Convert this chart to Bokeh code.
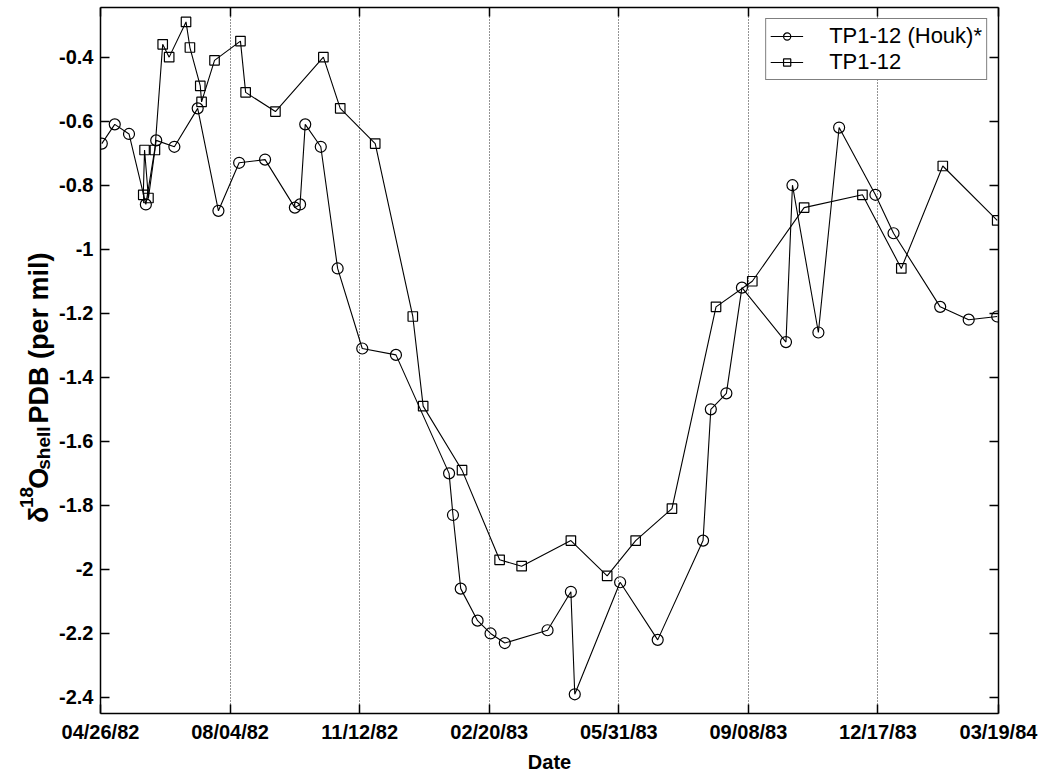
import pandas as pd
from math import pi
from bokeh.plotting import figure
from bokeh.layouts import row
from bokeh.core.properties import value
from bokeh.models import (Range1d, FixedTicker, CustomJSTickFormatter, LinearAxis,
                          Legend, LegendItem)
from bokeh.embed import file_html
from bokeh.resources import INLINE

# Shell oxygen-isotope record, sample TP1-12 (two analyses)
houk_dates = ["1982-04-27", "1982-05-07", "1982-05-18", "1982-05-31", "1982-06-08",
              "1982-06-22", "1982-07-10", "1982-07-26", "1982-08-11", "1982-08-31",
              "1982-09-23", "1982-09-27", "1982-10-01", "1982-10-13", "1982-10-26",
              "1982-11-14", "1982-12-10", "1983-01-20", "1983-01-23", "1983-01-29",
              "1983-02-11", "1983-02-21", "1983-03-04", "1983-04-06", "1983-04-24",
              "1983-04-27", "1983-06-01", "1983-06-30", "1983-08-04", "1983-08-10",
              "1983-08-22", "1983-09-03", "1983-10-07", "1983-10-12", "1983-11-01",
              "1983-11-17", "1983-12-15", "1983-12-29", "1984-02-03", "1984-02-25",
              "1984-03-18"]
houk_d18o = [-0.67, -0.61, -0.64, -0.86, -0.66, -0.68, -0.56, -0.88, -0.73, -0.72,
             -0.87, -0.86, -0.61, -0.68, -1.06, -1.31, -1.33, -1.70, -1.83, -2.06,
             -2.16, -2.20, -2.23, -2.19, -2.07, -2.39, -2.04, -2.22, -1.91, -1.50,
             -1.45, -1.12, -1.29, -0.80, -1.26, -0.62, -0.83, -0.95, -1.18, -1.22,
             -1.21]

tp_dates = ["1982-05-29", "1982-05-30", "1982-06-02", "1982-06-07", "1982-06-13",
            "1982-06-18", "1982-07-01", "1982-07-04", "1982-07-12", "1982-07-13",
            "1982-07-23", "1982-08-12", "1982-08-16", "1982-09-08", "1982-10-15",
            "1982-10-28", "1982-11-24", "1982-12-23", "1982-12-31", "1983-01-30",
            "1983-02-28", "1983-03-17", "1983-04-24", "1983-05-22", "1983-06-13",
            "1983-07-11", "1983-08-14", "1983-09-11", "1983-10-21", "1983-12-05",
            "1984-01-04", "1984-02-05", "1984-03-18"]
tp_d18o = [-0.83, -0.69, -0.84, -0.69, -0.36, -0.40, -0.29, -0.37, -0.49, -0.54,
           -0.41, -0.35, -0.51, -0.57, -0.40, -0.56, -0.67, -1.21, -1.49, -1.69,
           -1.97, -1.99, -1.91, -2.02, -1.91, -1.81, -1.18, -1.10, -0.87, -0.83,
           -1.06, -0.74, -0.91]

x_tick_dates = ["1982-04-26", "1982-08-04", "1982-11-12", "1983-02-20",
                "1983-05-31", "1983-09-08", "1983-12-17", "1984-03-19"]
y_ticks = [-2.4, -2.2, -2.0, -1.8, -1.6, -1.4, -1.2, -1.0, -0.8, -0.6, -0.4]

FONT = "Liberation Sans"


def to_ms(d):
    return pd.Timestamp(d).value / 1e6


x_ticks = [to_ms(d) for d in x_tick_dates]

# page geometry: a narrow strip for the y title, then the chart itself
W, H = 1045, 775
STRIP = 55
LEFT, RIGHT, TOP, BOTTOM = 100 - STRIP, 47, 7, 61

p = figure(width=W - STRIP, height=H, x_axis_type="datetime",
           x_range=Range1d(x_ticks[0], x_ticks[-1]),
           y_range=Range1d(-2.45, -0.245),
           output_backend="svg", toolbar_location=None,
           min_border_left=LEFT, min_border_right=RIGHT,
           min_border_top=TOP, min_border_bottom=BOTTOM,
           background_fill_color="white", border_fill_color="white",
           outline_line_color=None)

date_fmt = CustomJSTickFormatter(code="""
    const d = new Date(tick);
    const mm = String(d.getUTCMonth() + 1).padStart(2, '0');
    const dd = String(d.getUTCDate()).padStart(2, '0');
    const yy = String(d.getUTCFullYear() % 100).padStart(2, '0');
    return mm + '/' + dd + '/' + yy;
""")
num_fmt = CustomJSTickFormatter(code="return String(Math.round(tick * 10) / 10);")

p.xaxis.ticker = FixedTicker(ticks=x_ticks)
p.xaxis.formatter = date_fmt
p.yaxis.ticker = FixedTicker(ticks=y_ticks)
p.yaxis.formatter = num_fmt


def style_axis(ax, show_labels=True):
    ax.axis_line_color = "black"
    ax.axis_line_width = 1.5
    ax.major_tick_line_color = "black"
    ax.major_tick_line_width = 1.5
    ax.major_tick_in = 9
    ax.major_tick_out = 0
    ax.minor_tick_line_color = None
    ax.major_label_text_font = FONT
    ax.major_label_text_font_style = "bold"
    ax.major_label_text_color = "black"
    if show_labels:
        ax.major_label_text_font_size = "20px"
        ax.major_label_standoff = 7
    else:
        ax.major_label_text_font_size = "0px"
        ax.major_label_text_color = None
        ax.major_label_standoff = 0


for ax in p.xaxis + p.yaxis:
    style_axis(ax)

p.xaxis.axis_label = "Date"
p.xaxis.axis_label_text_font = FONT
p.xaxis.axis_label_text_font_size = "20px"
p.xaxis.axis_label_text_font_style = "bold"
p.xaxis.axis_label_text_color = "black"
p.xaxis.axis_label_standoff = 5

top_axis = LinearAxis(ticker=FixedTicker(ticks=x_ticks))
right_axis = LinearAxis(ticker=FixedTicker(ticks=y_ticks))
style_axis(top_axis, show_labels=False)
style_axis(right_axis, show_labels=False)
p.add_layout(top_axis, "above")
p.add_layout(right_axis, "right")

p.ygrid.visible = False
p.xgrid.grid_line_color = "black"
p.xgrid.grid_line_dash = "1 2"
p.xgrid.grid_line_width = 1
p.xgrid.grid_line_alpha = 0.85

hx = pd.to_datetime(houk_dates)
tx = pd.to_datetime(tp_dates)

l1 = p.line(hx, houk_d18o, line_color="black", line_width=1.1)
s1 = p.scatter(hx, houk_d18o, marker="circle", size=11, fill_color=None,
               line_color="black", line_width=1.2)
l2 = p.line(tx, tp_d18o, line_color="black", line_width=1.1)
s2 = p.scatter(tx, tp_d18o, marker="square", size=9.5, fill_color=None,
               line_color="black", line_width=1.2)

legend = Legend(items=[LegendItem(label="TP1-12 (Houk)*", renderers=[l1, s1]),
                       LegendItem(label="TP1-12", renderers=[l2, s2])],
                location="top_right", margin=11, padding=4, spacing=0,
                glyph_width=33, glyph_height=18, label_height=18,
                label_standoff=26, label_text_font=FONT,
                label_text_font_size="22px", label_text_color="black",
                border_line_color="black", border_line_width=1.2,
                background_fill_color="white", background_fill_alpha=1)
p.add_layout(legend)

# y title strip: coordinates are pixels from the strip's bottom-left corner
ylab = figure(width=STRIP, height=H, x_range=Range1d(0, STRIP), y_range=Range1d(0, H),
              x_axis_location=None, y_axis_location=None,
              output_backend="svg", toolbar_location=None, min_border=0,
              background_fill_color="white", border_fill_color="white",
              outline_line_color=None)
ylab.grid.visible = False

# delta, superscript 18, O, subscript shell, then the rest, reading upward
base_x, sup_x, sub_x = 38, 26, 43
em_main, em_small = 27, 19
start = H - 566
pieces = [
    ("\u03b4", em_main, base_x, 0.611 * em_main),
    ("18", em_small, sup_x, 1.112 * em_small),
    ("O", em_main, base_x, 0.778 * em_main),
    ("shell", em_small, sub_x, 2.279 * em_small + 0.278 * em_main),
    ("PDB (per mil)", em_main, base_x, 0.0),
]
pos = start
for text, size, bx, adv in pieces:
    ylab.text(x=[bx], y=[pos], text=[text], angle=pi / 2,
              text_align="left", text_baseline="alphabetic",
              text_font=value(FONT), text_font_size=value(f"{size}px"),
              text_font_style="bold", text_color="black")
    pos += adv

layout = row(ylab, p)
open("out.html", "w").write(file_html(layout, INLINE))
